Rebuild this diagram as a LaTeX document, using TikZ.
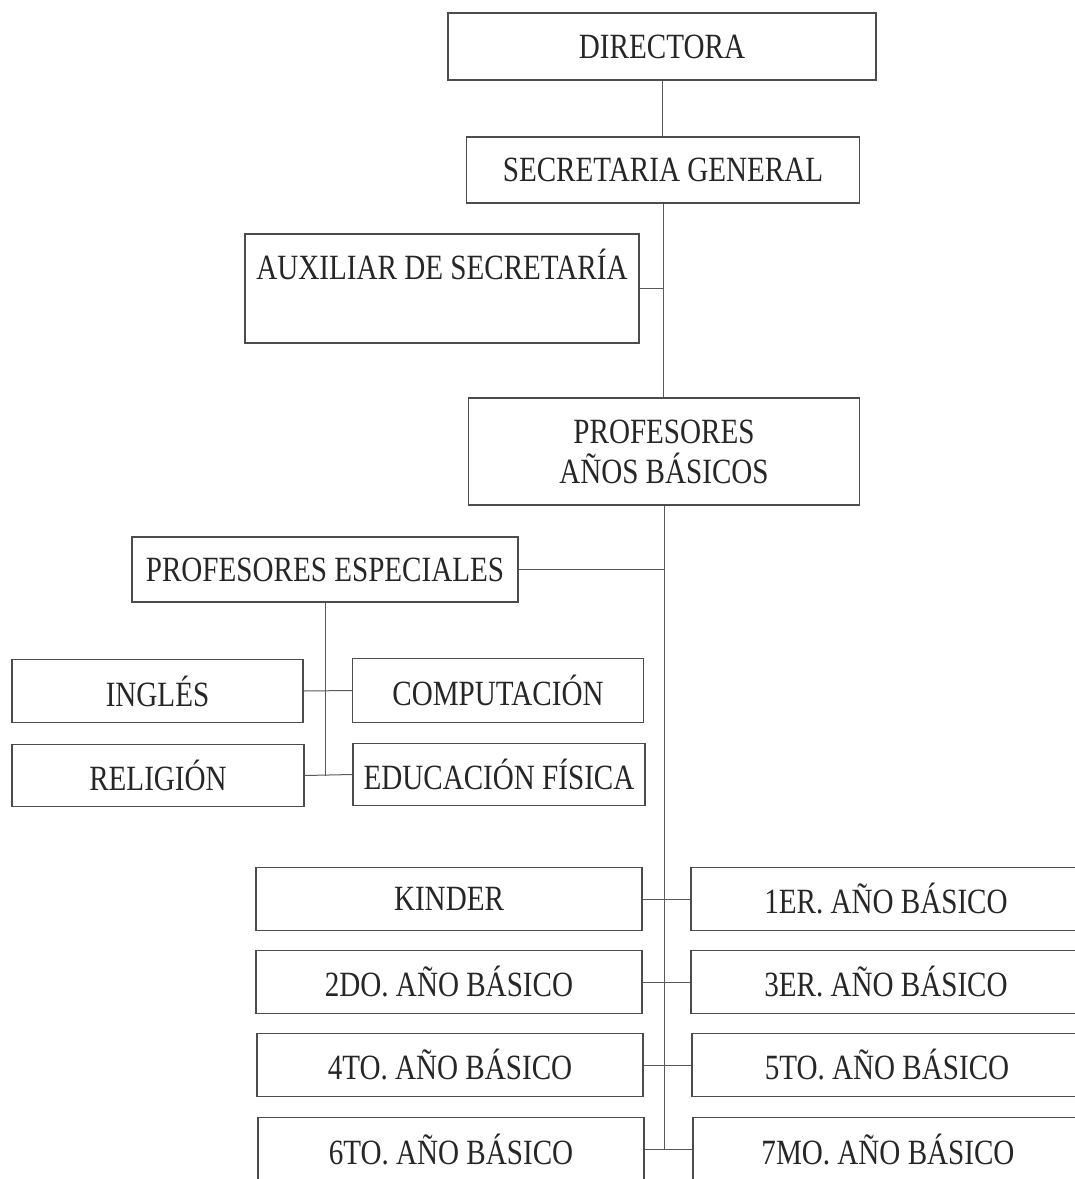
\documentclass[tikz,border=0pt]{standalone}
\usepackage{fontspec}
\setmainfont{Liberation Serif}[FakeStretch=0.82]
\begin{document}
\begin{tikzpicture}[x=1pt,y=-1pt,
  box/.style={draw=black!70, line width=1.2pt, inner sep=0pt, align=center,
    font=\fontsize{35.5}{40}\selectfont, text=black!85},
  link/.style={draw=black!65, line width=1pt}]
\useasboundingbox (0,0) rectangle (1075,1179);
\clip (0,0) rectangle (1075,1179);
% top chain
\node[box, minimum width=428, minimum height=67] (dir) at (662,46.5) {DIRECTORA};
\node[box, minimum width=393, minimum height=66] (sec) at (663,170) {SECRETARIA GENERAL};
\node[box, minimum width=394, minimum height=109] (aux) at (442,288.5) {AUXILIAR DE SECRETARÍA\\[8pt] \mbox{}};
\node[box, minimum width=391, minimum height=107] (pab) at (664,451.5) {PROFESORES\\AÑOS BÁSICOS};
% special teachers
\node[box, minimum width=386, minimum height=65] (pe) at (325,569.5) {PROFESORES ESPECIALES};
\node[box, minimum width=291, minimum height=63] (ing) at (157.5,691) {INGLÉS};
\node[box, minimum width=291, minimum height=64] (comp) at (498,690.5) {COMPUTACIÓN};
\node[box, minimum width=292, minimum height=62] (rel) at (158,775.5) {RELIGIÓN};
\node[box, minimum width=292, minimum height=62] (ef) at (499,774.5) {EDUCACIÓN FÍSICA};
% grades
\node[box, minimum width=386, minimum height=63] (kin) at (449,899) {KINDER};
\node[box, minimum width=390, minimum height=63] (g1) at (886,899) {1ER. AÑO BÁSICO};
\node[box, minimum width=386, minimum height=63] (g2) at (449,982) {2DO. AÑO BÁSICO};
\node[box, minimum width=390, minimum height=63] (g3) at (886,982) {3ER. AÑO BÁSICO};
\node[box, minimum width=386, minimum height=63] (g4) at (450,1065) {4TO. AÑO BÁSICO};
\node[box, minimum width=390, minimum height=63] (g5) at (887,1065) {5TO. AÑO BÁSICO};
\node[box, minimum width=386, minimum height=63] (g6) at (451,1149) {6TO. AÑO BÁSICO};
\node[box, minimum width=390, minimum height=63] (g7) at (888,1149) {7MO. AÑO BÁSICO};
% connectors
\draw[link] (dir.south) -- (dir.south |- sec.north);
\draw[link] (sec.south) -- (sec.south |- pab.north);
\draw[link] (aux.east) -- (aux.east -| sec.south);
\draw[link] (pab.south) -- (pab.south |- g7.west) -- (g7.west);
\draw[link] (pe.east) -- (pe.east -| pab.south);
\draw[link] (pe.south) -- (pe.south |- rel.east);
\draw[link] (ing.east) -- (comp.west);
\draw[link] (rel.east) -- (ef.west);
\draw[link] (kin.east) -- (g1.west);
\draw[link] (g2.east) -- (g3.west);
\draw[link] (g4.east) -- (g5.west);
\draw[link] (g6.east) -- (g6.east -| pab.south);
\end{tikzpicture}
\end{document}
